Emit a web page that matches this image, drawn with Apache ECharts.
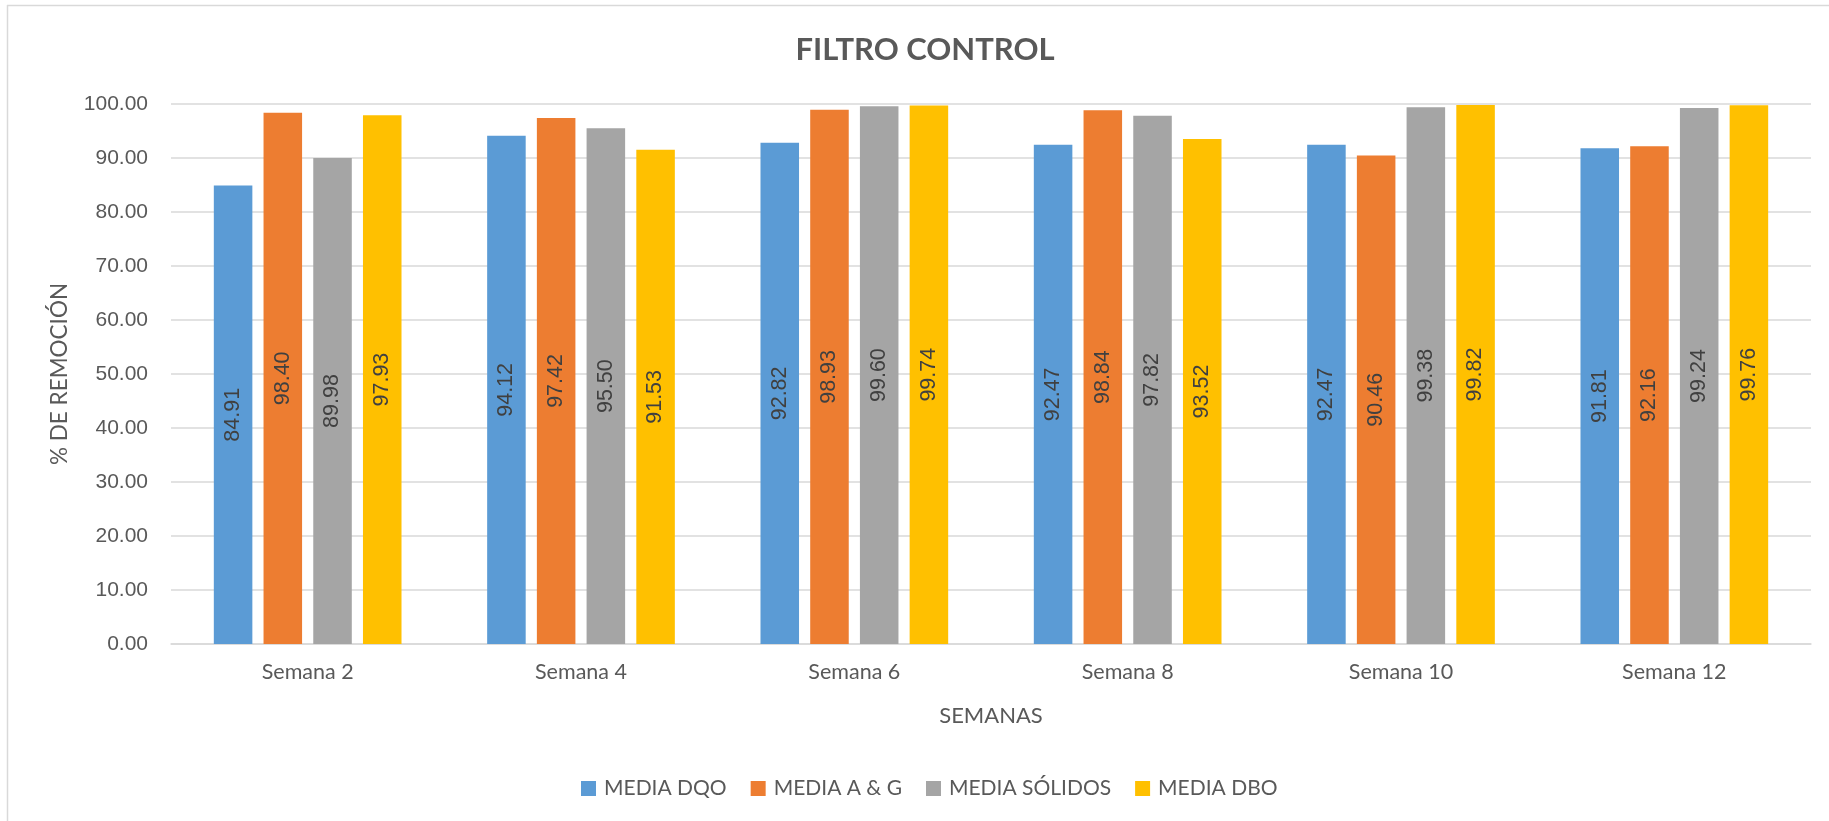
<!DOCTYPE html>
<html>
<head>
<meta charset="utf-8">
<script src="https://cdn.jsdelivr.net/npm/echarts@6/dist/echarts.min.js"></script>
<style>
html,body{margin:0;padding:0;background:#fff;}
#chart{width:1829px;height:821px;}
</style>
</head>
<body>
<div id="chart"></div>
<script>
const categories = ['Semana 2','Semana 4','Semana 6','Semana 8','Semana 10','Semana 12'];
const seriesNames = ['MEDIA DQO','MEDIA A & G','MEDIA SÓLIDOS','MEDIA DBO'];
const mediaDQO = [84.91, 94.12, 92.82, 92.47, 92.47, 91.81];
const mediaAG = [98.40, 97.42, 98.93, 98.84, 90.46, 92.16];
const mediaSolidos = [89.98, 95.50, 99.60, 97.82, 99.38, 99.24];
const mediaDBO = [97.93, 91.53, 99.74, 93.52, 99.82, 99.76];
const colors = ['#5B9BD5','#ED7D31','#A5A5A5','#FFC000'];
const allValues = [mediaDQO, mediaAG, mediaSolidos, mediaDBO];

const calibri = 'Lato, "Open Sans", sans-serif';
const numFont = '"Liberation Sans", Arial, sans-serif';

const chart = echarts.init(document.getElementById('chart'));
chart.setOption({
  backgroundColor: '#fff',
  animation: false,
  title: {
    text: 'FILTRO CONTROL',
    left: 920, top: 29, textAlign: 'center',
    textStyle: {fontFamily: calibri, fontWeight: 'bold', fontSize: 31, color: '#595959'}
  },
  graphic: [
    {type: 'line', shape: {x1: 7, y1: 5.5, x2: 1829, y2: 5.5}, style: {stroke: '#d9d9d9', lineWidth: 1.5}},
    {type: 'line', shape: {x1: 7.5, y1: 5, x2: 7.5, y2: 821}, style: {stroke: '#d9d9d9', lineWidth: 1.5}}
  ],
  legend: {
    data: seriesNames,
    left: 576, top: 773,
    itemWidth: 15, itemHeight: 15, itemGap: 24,
    icon: 'rect',
    textStyle: {fontFamily: calibri, fontSize: 21, color: '#595959', padding: [0, 0, 0, 3]}
  },
  grid: {left: 171, right: 18, top: 104, bottom: 177, containLabel: false},
  xAxis: {
    type: 'category',
    data: categories,
    name: 'SEMANAS', nameLocation: 'middle', nameGap: 61,
    nameTextStyle: {fontFamily: calibri, fontSize: 22, color: '#595959'},
    axisLine: {lineStyle: {color: '#d9d9d9', width: 1.5}},
    axisTick: {show: false},
    axisLabel: {fontFamily: calibri, fontSize: 21.5, color: '#595959', margin: 17}
  },
  yAxis: {
    type: 'value', min: 0, max: 100, interval: 10,
    name: '% DE REMOCIÓN', nameLocation: 'middle', nameGap: 100, nameRotate: 90,
    nameTextStyle: {fontFamily: calibri, fontSize: 22.5, color: '#595959'},
    axisLine: {show: false}, axisTick: {show: false},
    axisLabel: {fontFamily: numFont, fontSize: 21, color: '#595959', margin: 23,
      formatter: v => v.toFixed(2)},
    splitLine: {lineStyle: {color: '#d9d9d9', width: 1.5}}
  },
  series: seriesNames.map((n, i) => ({
    name: n, type: 'bar', data: allValues[i],
    barWidth: '14.1%', barGap: '29%',
    itemStyle: {color: colors[i]},
    label: {
      show: true, position: 'inside', rotate: 90,
      fontFamily: numFont, fontSize: 21.5, color: '#404040',
      formatter: p => p.value.toFixed(2)
    }
  }))
});
</script>
</body>
</html>
